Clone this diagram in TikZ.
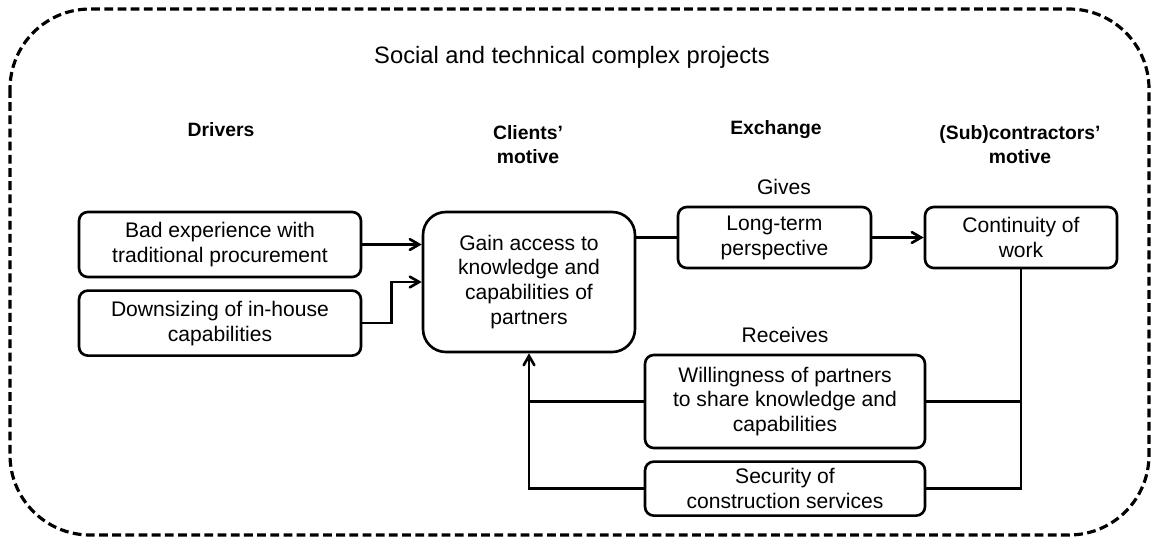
\documentclass[tikz,border=0pt]{standalone}
\usepackage{fontspec}
\setmainfont{Liberation Sans}
\usepackage{tikz}
\usetikzlibrary{arrows,shapes,positioning}
\newcommand\boxfont{\fontsize{12}{14.2}\selectfont}
\newcommand\hdfont{\fontsize{11}{13.6}\selectfont\bfseries}
\tikzstyle{Abox}=[draw,rounded corners=5pt,line width=1.5pt,align=center,
                inner sep=0pt,font=\boxfont]
\tikzstyle{hit}=[->,>=angle 60]
\tikzstyle{head}=[align=center,font=\hdfont]
\tikzstyle{lbl}=[align=center,font=\boxfont]
\begin{document}
\begin{tikzpicture}[x=0.02cm,y=-0.02cm,line width=1.5pt]
  \useasboundingbox (0,0) rectangle (1153,537);
  % project frame
  \draw[line width=1.8pt,dash pattern=on 5pt off 2.5pt,rounded corners=1.6cm] (10,9) rectangle (1149,535);
  \node[lbl,font=\fontsize{13.5}{16}\selectfont] (title) at (572,57) {Social and technical complex projects};
  % column heads
  \node[head] (h_d) at (221,130) {Drivers};
  \node[head] (h_c) at (528,145) {Clients’\\motive};
  \node[head] (h_e) at (776,130) {Exchange};
  \node[head] (h_s) at (1020,145) {(Sub)contractors’\\motive};
  % drivers
  \node[Abox,minimum width=5.64cm,minimum height=1.3cm] (d_1) at (220,244.5)
    {Bad experience with\\traditional procurement};
  \node[Abox,minimum width=5.64cm,minimum height=1.3cm,below=0.22cm of d_1] (d_2)
    {Downsizing of in-house\\capabilities};
  % motives
  \node[Abox,rounded corners=13pt,minimum width=4.24cm,minimum height=2.8cm] (cm) at (529,282)
    {Gain access to\\knowledge and\\capabilities of\\partners};
  \node[Abox,minimum width=3.84cm,minimum height=1.22cm] (sm) at (1021,237.5)
    {Continuity of\\work};
  % exchange
  \node[lbl] (gv) at (784,187) {Gives};
  \node[Abox,minimum width=3.86cm,minimum height=1.22cm] (e_g) at (774.5,237.5)
    {Long-term\\perspective};
  \node[lbl] (rc) at (785,335) {Receives};
  \node[Abox,minimum width=5.6cm,minimum height=1.86cm] (e_r1) at (785,401.5)
    {Willingness of partners\\to share knowledge and\\capabilities};
  \node[Abox,minimum width=5.6cm,minimum height=1.08cm,below=0.22cm of e_r1] (e_r2)
    {Security of\\construction services};
  % connectors
  \draw[hit] (d_1.east) -- (d_1.east -| cm.west);
  \draw[hit] (d_2.east) -- ++(29,0) |- (cm.west);
  \draw (cm.east |- e_g.west) -- (e_g.west);
  \draw[hit] (e_g.east) -- (sm.west);
  \draw (sm.south) |- (e_r2.east);
  \draw (e_r1.east) -- (e_r1.east -| sm.south);
  \draw[hit] (e_r2.west) -| (cm.south);
  \draw (e_r1.west) -- (e_r1.west -| cm.south);
\end{tikzpicture}
\end{document}
